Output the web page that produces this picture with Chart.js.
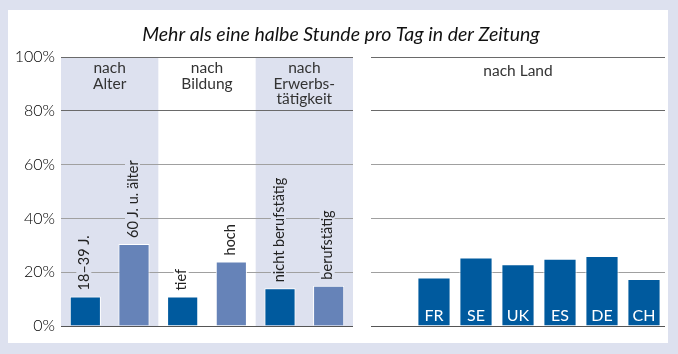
<!DOCTYPE html>
<html>
<head>
<meta charset="utf-8">
<script src="https://cdn.jsdelivr.net/npm/chart.js@4.4.1/dist/chart.umd.min.js"></script>
<style>
  html, body { margin:0; padding:0; background:#dde1ef; }
  #wrap { position:relative; width:678px; height:354px; overflow:hidden; }
  #panel { position:absolute; left:8px; top:10px; width:660px; height:333px; background:#ffffff; }
  canvas { position:absolute; left:0; top:0; }
</style>
</head>
<body>
<div id="wrap">
  <div id="panel"></div>
  <canvas id="left" width="678" height="354"></canvas>
  <canvas id="right" width="678" height="354"></canvas>
</div>
<script>
// ---- data ----
const titleText = 'Mehr als eine halbe Stunde pro Tag in der Zeitung';
const categoriesLeft = ['18–39 J.', '60 J. u. älter', 'tief', 'hoch', 'nicht berufstätig', 'berufstätig'];
const valuesLeft = [11, 30.5, 11, 24, 14, 15];
const groupLabelsLeft = [['nach', 'Alter'], ['nach', 'Bildung'], ['nach', 'Erwerbs-', 'tätigkeit']];
const categoriesRight = ['', 'FR', 'SE', 'UK', 'ES', 'DE', 'CH'];
const valuesRight = [null, 18, 25.5, 23, 25, 26, 17.5];
const groupLabelRight = 'nach Land';
const yTickValues = [0, 20, 40, 60, 80, 100];

// ---- styles ----
const DARK = '#005a9e';
const LIGHT = '#6683b8';
const BAND = '#dde1ef';
const TEXT = '#222222';
const FONT = 'Lato, "Open Sans", sans-serif';

function gridColor(ctx) {
  const v = ctx.tick ? ctx.tick.value : 0;
  if (v === 0) return '#555555';
  if (v >= 80) return '#6a6a6a';
  return '#a0a0a0';
}

function yScale(showLabels, width) {
  return {
    min: 0, max: 100,
    afterBuildTicks: (s) => { s.ticks = yTickValues.map(v => ({ value: v })); },
    afterFit: (s) => { s.width = width; },
    border: { display: false },
    grid: { color: gridColor, lineWidth: 1, drawTicks: false },
    ticks: {
      display: showLabels,
      padding: 6,
      color: '#000000',
      font: { family: FONT, size: 16, weight: '300' },
      callback: (v) => v + '%'
    }
  };
}

const bandPlugin = {
  id: 'bands',
  beforeDraw(chart) {
    const a = chart.chartArea, ctx = chart.ctx;
    const w = (a.right - a.left) / 3;
    ctx.save();
    ctx.fillStyle = BAND;
    [0, 2].forEach(g => ctx.fillRect(a.left + g * w, a.top, w, a.bottom - a.top));
    ctx.restore();
  },
  afterDraw(chart) {
    const a = chart.chartArea, ctx = chart.ctx;
    const w = (a.right - a.left) / 3;
    ctx.save();
    // title
    ctx.fillStyle = '#111';
    ctx.font = 'italic 19.5px ' + FONT;
    ctx.textAlign = 'center';
    ctx.textBaseline = 'alphabetic';
    ctx.fillText(titleText, 341, 41, 400);
    // group headers
    ctx.fillStyle = '#333';
    ctx.font = '15.5px ' + FONT;
    groupLabelsLeft.forEach((lines, g) => {
      const cx = a.left + (g + 0.5) * w;
      lines.forEach((t, i) => ctx.fillText(t, cx, 73 + i * 15.5));
    });
    ctx.restore();
  },
  afterDatasetsDraw(chart) {
    const ctx = chart.ctx;
    const meta = chart.getDatasetMeta(0);
    ctx.save();
    ctx.font = '14.5px ' + FONT;
    ctx.textBaseline = 'middle';
    ctx.textAlign = 'left';
    meta.data.forEach((bar, i) => {
      const g = Math.floor(i / 2);
      const txt = categoriesLeft[i];
      const tw = ctx.measureText(txt).width;
      ctx.save();
      ctx.translate(bar.x - 1, bar.y - 6);
      ctx.rotate(-Math.PI / 2);
      ctx.fillStyle = g === 1 ? '#ffffff' : BAND;
      ctx.fillRect(-1, -8, tw + 3, 15);
      ctx.fillStyle = TEXT;
      ctx.fillText(txt, 0, 0);
      ctx.restore();
    });
    ctx.restore();
  }
};

const rightPlugin = {
  id: 'rightLabels',
  afterDatasetsDraw(chart) {
    const ctx = chart.ctx, a = chart.chartArea;
    const meta = chart.getDatasetMeta(0);
    ctx.save();
    ctx.font = '16px ' + FONT;
    ctx.textAlign = 'center';
    ctx.textBaseline = 'alphabetic';
    ctx.fillStyle = '#ffffff';
    meta.data.forEach((bar, i) => {
      if (valuesRight[i] == null) return;
      ctx.fillText(categoriesRight[i], bar.x, a.bottom - 5);
    });
    ctx.fillStyle = '#333';
    ctx.font = '15.5px ' + FONT;
    ctx.fillText(groupLabelRight, (a.left + a.right) / 2, 76);
    ctx.restore();
  }
};

const common = {
  responsive: false,
  animation: false,
  events: [],
  plugins: { legend: { display: false }, tooltip: { enabled: false }, title: { display: false } }
};

new Chart(document.getElementById('left'), {
  type: 'bar',
  data: {
    labels: categoriesLeft,
    datasets: [{
      data: valuesLeft,
      backgroundColor: valuesLeft.map((v, i) => i % 2 === 0 ? DARK : LIGHT),
      borderColor: '#ffffff',
      borderWidth: 1,
      borderSkipped: 'start',
      categoryPercentage: 1,
      barPercentage: 0.64
    }]
  },
  options: Object.assign({}, common, {
    layout: { padding: { left: 0, top: 57, right: 325, bottom: 28 } },
    scales: {
      x: { display: false, offset: true },
      y: yScale(true, 61)
    }
  }),
  plugins: [bandPlugin]
});

new Chart(document.getElementById('right'), {
  type: 'bar',
  data: {
    labels: categoriesRight,
    datasets: [{
      data: valuesRight,
      backgroundColor: DARK,
      borderColor: '#ffffff',
      borderWidth: 1,
      borderSkipped: 'start',
      categoryPercentage: 1,
      barPercentage: 0.79
    }]
  },
  options: Object.assign({}, common, {
    layout: { padding: { left: 371, top: 57, right: 13, bottom: 28 } },
    scales: {
      x: { display: false, offset: true },
      y: yScale(false, 0)
    }
  }),
  plugins: [rightPlugin]
});
</script>
</body>
</html>
